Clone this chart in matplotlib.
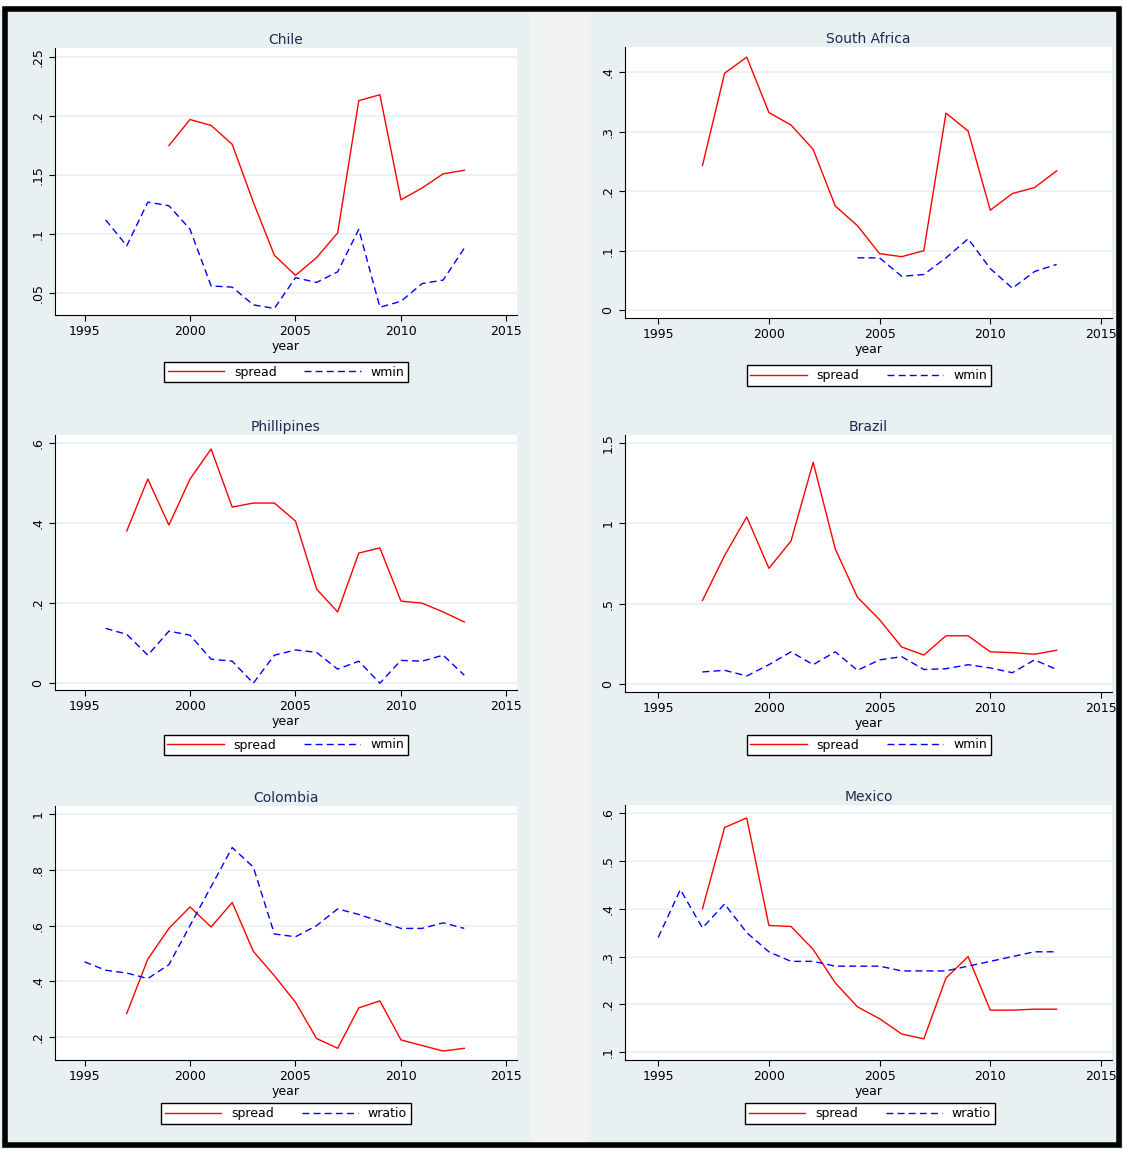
import numpy as np
import matplotlib.pyplot as plt
from matplotlib.patches import Rectangle

W, H = 1123, 1149
fig = plt.figure(figsize=(W / 100, H / 100), dpi=100)
fig.patch.set_facecolor("#e9f0f2")

years_chile_s = list(range(1999, 2014))
chile_spread = [.175, .197, .192, .176, .127, .082, .065, .080, .101, .213, .218, .129, .139, .151, .154]
years_chile_w = list(range(1996, 2014))
chile_wmin = [.112, .090, .127, .124, .104, .056, .055, .040, .037, .063, .059, .068, .104, .038, .043, .058, .061, .088]

years_sa_s = list(range(1997, 2014))
sa_spread = [.243, .398, .425, .332, .311, .27, .175, .142, .095, .09, .1, .331, .301, .168, .196, .206, .234]
years_sa_w = list(range(2004, 2014))
sa_wmin = [.088, .088, .057, .06, .088, .12, .07, .037, .065, .077]

years_ph_s = list(range(1997, 2014))
ph_spread = [.38, .51, .395, .51, .585, .44, .45, .45, .405, .235, .178, .325, .338, .205, .2, .178, .153]
years_ph_w = list(range(1996, 2014))
ph_wmin = [.137, .122, .07, .13, .12, .06, .055, 0, .07, .083, .077, .035, .055, 0, .057, .055, .07, .02]

years_br = list(range(1997, 2014))
br_spread = [.52, .8, 1.04, .72, .89, 1.38, .84, .54, .4, .23, .18, .3, .3, .2, .195, .185, .21]
br_wmin = [.075, .085, .05, .12, .2, .12, .2, .085, .15, .17, .09, .095, .12, .1, .07, .15, .09]

years_co_s = list(range(1997, 2014))
co_spread = [.285, .48, .59, .667, .595, .683, .508, .42, .325, .195, .16, .305, .33, .19, .17, .15, .16]
years_co_w = list(range(1995, 2014))
co_wratio = [.47, .44, .43, .41, .46, .6, .74, .88, .81, .57, .56, .6, .66, .64, .615, .59, .59, .61, .59]

years_mx_s = list(range(1997, 2014))
mx_spread = [.40, .57, .59, .365, .363, .315, .245, .195, .17, .138, .128, .255, .30, .188, .188, .19, .19]
years_mx_w = list(range(1995, 2014))
mx_wratio = [.34, .44, .36, .41, .35, .31, .29, .29, .28, .28, .28, .27, .27, .27, .28, .29, .30, .31, .31]


def px_axes(x0, y0, x1, y1):
    return fig.add_axes([x0 / W, 1 - y1 / H, (x1 - x0) / W, (y1 - y0) / H])


# white band on top, lighter strip between columns and black frame
fig.patches.append(Rectangle((0, 1 - 8 / H), 1, 8 / H, transform=fig.transFigure, color="white", zorder=0))
fig.patches.append(Rectangle((530 / W, 0), 58 / W, 1 - 8 / H, transform=fig.transFigure, color="#f1f2f2", zorder=0))
fig.patches.append(Rectangle((5 / W, 4 / H), 1114 / W, 1136 / H, transform=fig.transFigure,
                             fill=False, edgecolor="black", lw=4, zorder=10))

panels = [
    ("Chile", (55, 48, 517, 315), (1993.6, 2015.5), (.0314, .2576), [.05, .1, .15, .2, .25],
     [".05", ".1", ".15", ".2", ".25"], years_chile_s, chile_spread, years_chile_w, chile_wmin, "wmin", (180, 360, 392, 384)),
    ("South Africa", (625, 47, 1112, 318), (1993.5, 2015.5), (-.013, .442), [0, .1, .2, .3, .4],
     ["0", ".1", ".2", ".3", ".4"], years_sa_s, sa_spread, years_sa_w, sa_wmin, "wmin", (756, 363, 981, 388)),
    ("Phillipines", (55, 435, 517, 690), (1993.6, 2015.5), (-.017, .62), [0, .2, .4, .6],
     ["0", ".2", ".4", ".6"], years_ph_s, ph_spread, years_ph_w, ph_wmin, "wmin", (179, 733, 392, 757)),
    ("Brazil", (625, 435, 1112, 692), (1993.5, 2015.5), (-.05, 1.55), [0, .5, 1, 1.5],
     ["0", ".5", "1", "1.5"], years_br, br_spread, years_br, br_wmin, "wmin", (756, 733, 981, 757)),
    ("Colombia", (55, 806, 517, 1060), (1993.6, 2015.5), (.118, 1.029), [.2, .4, .6, .8, 1],
     [".2", ".4", ".6", ".8", "1"], years_co_s, co_spread, years_co_w, co_wratio, "wratio", (177, 1101, 395, 1126)),
    ("Mexico", (625, 805, 1112, 1060), (1993.5, 2015.5), (.0837, .617), [.1, .2, .3, .4, .5, .6],
     [".1", ".2", ".3", ".4", ".5", ".6"], years_mx_s, mx_spread, years_mx_w, mx_wratio, "wratio", (755, 1101, 985, 1126)),
]

for (title, box, xl, yl, yt, ytl, xs, ys, xw, yw, wname, lbox) in panels:
    ax = px_axes(*box)
    ax.set_facecolor("white")
    ax.set_xlim(*xl)
    ax.set_ylim(*yl)
    ax.set_yticks(yt)
    ax.set_yticklabels(ytl, rotation=90, va="center", fontsize=9)
    ax.set_xticks([1995, 2000, 2005, 2010, 2015])
    ax.tick_params(labelsize=9, length=4)
    ax.grid(axis="y", color="#e9f0f2", lw=1.2)
    ax.set_axisbelow(True)
    for s in ["top", "right"]:
        ax.spines[s].set_visible(False)
    l1, = ax.plot(xs, ys, color="red", lw=1)
    l2, = ax.plot(xw, yw, color="blue", lw=1, ls=(0, (5, 3)))
    ax.set_title(title, fontsize=10, color="#1e2a50", pad=3)
    ax.set_xlabel("year", fontsize=9, labelpad=1)
    lx0, ly0, lx1, ly1 = lbox
    fig.legend([l1, l2], ["spread", wname], loc="center", ncol=2, fontsize=9,
               bbox_to_anchor=((lx0 + lx1) / 2 / W, 1 - (ly0 + ly1) / 2 / H),
               fancybox=False, edgecolor="black", framealpha=1, handlelength=4.5,
               columnspacing=2.2, borderpad=0.3)

fig.savefig("out.png", dpi=100, facecolor=fig.get_facecolor())
